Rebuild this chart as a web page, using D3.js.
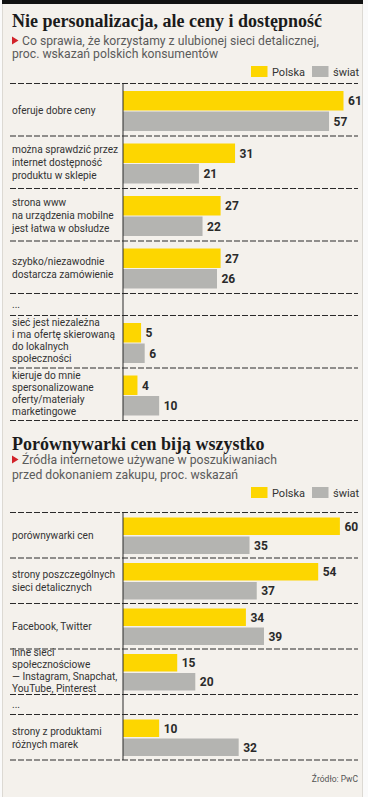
<!DOCTYPE html>
<html>
<head>
<meta charset="utf-8">
<script src="https://cdn.jsdelivr.net/npm/d3@7"></script>
<style>
  html, body { margin: 0; padding: 0; background: #fafafa; }
  svg { display: block; }
</style>
</head>
<body>
<svg id="chart" width="368" height="797"></svg>
<script>
// ---- data ----
const seriesNames = ["Polska", "świat"];

const title1 = "Nie personalizacja, ale ceny i dostępność";
const subtitle1 = ["Co sprawia, że korzystamy z ulubionej sieci detalicznej,", "proc. wskazań polskich konsumentów"];
const categories1 = [
  "oferuje dobre ceny",
  "można sprawdzić przez\ninternet dostępność\nproduktu w sklepie",
  "strona www\nna urządzenia mobilne\njest łatwa w obsłudze",
  "szybko/niezawodnie\ndostarcza zamówienie",
  "...",
  "sieć jest niezależna\ni ma ofertę skierowaną\ndo lokalnych\nspołeczności",
  "kieruje do mnie\nspersonalizowane\noferty/materiały\nmarketingowe"
];
const polska1 = [61, 31, 27, 27, null, 5, 4];
const swiat1  = [57, 21, 22, 26, null, 6, 10];

const title2 = "Porównywarki cen biją wszystko";
const subtitle2 = ["Źródła internetowe używane w poszukiwaniach", "przed dokonaniem zakupu, proc. wskazań"];
const categories2 = [
  "porównywarki cen",
  "strony poszczególnych\nsieci detalicznych",
  "Facebook, Twitter",
  "inne sieci\nspołecznościowe\n— Instagram, Snapchat,\nYouTube, Pinterest",
  "...",
  "strony z produktami\nróżnych marek"
];
const polska2 = [60, 54, 34, 15, null, 10];
const swiat2  = [35, 37, 39, 20, null, 32];

const source = "Źródło: PwC";

// ---- style ----
const YELLOW = "#fdd600";
const GREY = "#b4b4b1";
const BG = "#f4f1ec";
const SANS = "Roboto, 'Open Sans', sans-serif";
const SERIF = "'Liberation Serif', 'DejaVu Serif', serif";
const LABEL_SX = 0.86;

const svg = d3.select("#chart");

// panel background
svg.append("rect").attr("x", 2.5).attr("y", 0).attr("width", 360).attr("height", 800)
  .attr("fill", BG).attr("stroke", "#dcd9d3").attr("stroke-width", 1);
svg.append("rect").attr("x", 2).attr("y", 0).attr("width", 361).attr("height", 4).attr("fill", "#111");

const x = d3.scaleLinear().domain([0, 61]).range([123, 343.5]);

function drawChart(cfg) {
  const g = svg.append("g");
  // title
  g.append("text").attr("x", 12).attr("y", cfg.titleY)
    .attr("font-family", SERIF).attr("font-weight", "bold").attr("font-size", cfg.titleSize)
    .attr("fill", "#1b1b1b").text(cfg.title);
  // subtitle
  const ty = cfg.subY;
  g.append("path")
    .attr("d", `M12,${ty - 8.5} L18.5,${ty - 4.5} L12,${ty - 0.5} Z`)
    .attr("fill", "#d2232a");
  cfg.subtitle.forEach((s, i) => {
    g.append("text").attr("x", i === 0 ? 22 : 12).attr("y", ty + i * cfg.subLH)
      .attr("font-family", SANS).attr("font-size", 12.2).attr("fill", "#5b5b5b").text(s);
  });
  // legend
  const ly = cfg.legendY;
  const legendX = [251, 312];
  [YELLOW, GREY].forEach((c, i) => {
    g.append("rect").attr("x", legendX[i]).attr("y", ly).attr("width", 16.5).attr("height", 11).attr("fill", c);
    g.append("text").attr("x", legendX[i] + 21).attr("y", ly + 9.5)
      .attr("font-family", SANS).attr("font-size", 11).attr("fill", "#333").text(seriesNames[i]);
  });

  // rows
  const rows = [];
  let y = cfg.top;
  cfg.categories.forEach((c, i) => {
    const h = cfg.polska[i] == null ? cfg.ellH : cfg.rowH;
    rows.push({ cat: c, p: cfg.polska[i], s: cfg.swiat[i], y0: y, h });
    y += h;
  });
  const bottom = y;

  // separators
  const seps = [cfg.top].concat(rows.map(r => r.y0 + r.h));
  g.selectAll(".sep").data(seps).enter().append("line")
    .attr("x1", 10).attr("x2", 358)
    .attr("y1", d => d).attr("y2", d => d)
    .attr("stroke", "#2a2a2a").attr("stroke-width", 1).attr("stroke-dasharray", "6,2");

  const labelG = g.append("g").attr("transform", `scale(${LABEL_SX},1)`);
  rows.forEach(r => {
    const lines = r.cat.split("\n");
    const lh = lines.length >= 4 ? 12 : 13;
    const cy = r.y0 + r.h / 2;
    const t = labelG.append("text").attr("font-family", SANS).attr("font-size", 11.8)
      .attr("fill", "#333");
    lines.forEach((l, k) => {
      t.append("tspan").attr("x", 12 / LABEL_SX)
        .attr("y", cy + 4 + (k - (lines.length - 1) / 2) * lh + (lines.length >= 4 ? -1.5 : 0))
        .text(l);
    });
    if (r.p == null) return;
    const vals = [r.p, r.s];
    vals.forEach((v, k) => {
      const by = r.y0 + cfg.barOff + k * (cfg.barH + cfg.gap);
      g.append("rect").attr("x", x(0)).attr("y", by)
        .attr("width", x(v) - x(0)).attr("height", cfg.barH)
        .attr("fill", k === 0 ? YELLOW : GREY);
      g.append("text").attr("x", x(v) + 4.5).attr("y", by + cfg.barH / 2).attr("dy", "0.36em")
        .attr("font-family", SANS).attr("font-weight", "bold").attr("font-size", 12)
        .attr("fill", "#2a2a2a").text(v);
    });
  });

  // vertical axis
  g.append("line").attr("x1", x(0)).attr("x2", x(0))
    .attr("y1", cfg.top).attr("y2", bottom)
    .attr("stroke", "#2a2a2a").attr("stroke-width", 1);
}

drawChart({
  title: title1, titleY: 27, titleSize: 18,
  subtitle: subtitle1, subY: 45, subLH: 13,
  legendY: 66,
  categories: categories1, polska: polska1, swiat: swiat1,
  top: 83.5, rowH: 52.5, ellH: 22, barOff: 7.5, barH: 19.5, gap: 1
});

drawChart({
  title: title2, titleY: 450, titleSize: 18,
  subtitle: subtitle2, subY: 464, subLH: 15,
  legendY: 487,
  categories: categories2, polska: polska2, swiat: swiat2,
  top: 512.5, rowH: 45.5, ellH: 20, barOff: 5, barH: 17.5, gap: 1.5
});

svg.append("text").attr("x", 358).attr("y", 782).attr("text-anchor", "end")
  .attr("font-family", SANS).attr("font-size", 8.5).attr("fill", "#555").text(source);
</script>
</body>
</html>
